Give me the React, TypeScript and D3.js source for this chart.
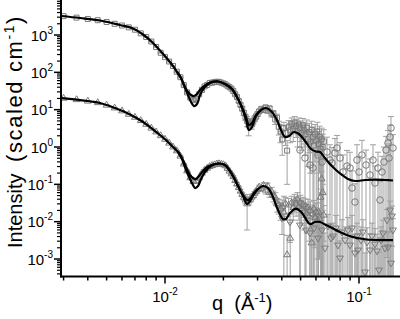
import React from 'react';
import * as d3 from 'd3';

type Pt = [number, number, number];
type CP = [number, number];

// ---------- axes ----------
const xDomain: [number, number] = [0.00291, 0.1627];
const yDomain: [number, number] = [3.4e-4, 8660];
const xMajorTicks = [0.01, 0.1];
const xTickExponents = ['-2', '-1'];
const yMajorTicks = [1e-3, 1e-2, 1e-1, 1, 10, 100, 1000];
const yTickExponents = ['-3', '-2', '-1', '0', '1', '2', '3'];
const minorMultipliers = [2, 3, 4, 5, 6, 7, 8, 9];
const xDecades = [0.001, 0.01, 0.1];
const yDecades = [1e-4, 1e-3, 1e-2, 1e-1, 1, 10, 100, 1000];

// ---------- fits ----------
const fitTopA: CP[] = [
  [0.00291, 3228], [0.00365, 2852], [0.00462, 2446], [0.00586, 1853], [0.00684, 1493], [0.00789, 940],
  [0.00867, 611], [0.00942, 384], [0.01024, 235], [0.0110, 148], [0.01153, 102], [0.01209, 70.5],
  [0.01268, 38], [0.01314, 24.7], [0.01362, 16], [0.01411, 12.5], [0.01462, 14.2], [0.01515, 24.7],
  [0.01589, 38], [0.01706, 51.8], [0.01876, 56.8], [0.02038, 48.7], [0.02215, 35.8], [0.0235, 21.8],
  [0.02494, 11.07], [0.02616, 5.28], [0.0271, 2.85], [0.02809, 3.43], [0.02945, 6.76], [0.03125, 9.79],
  [0.03316, 11.07], [0.03519, 9.21], [0.03778, 5.28], [0.03962, 2.85], [0.04155, 1.85], [0.04357, 1.97],
  [0.04624, 2.52], [0.04906, 2.23], [0.05268, 1.45], [0.05656, 0.883], [0.06003, 0.757], [0.06295, 0.734],
  [0.06678, 0.507], [0.07087, 0.35], [0.07609, 0.242], [0.08173, 0.178], [0.08776, 0.139], [0.09537, 0.123],
  [0.1074, 0.1306], [0.1209, 0.1345], [0.1361, 0.1306], [0.1497, 0.1266],
];
const fitTopB: CP[] = [
  [0.01153, 102], [0.01209, 70.5], [0.01268, 40.5], [0.01314, 29.7], [0.01362, 24.7], [0.01411, 23.2],
  [0.01462, 26.3], [0.01515, 33.6], [0.01589, 43.0], [0.01706, 53.4], [0.01876, 56.8], [0.02038, 48.7],
  [0.02215, 35.8], [0.0235, 21.8], [0.02494, 11.8], [0.02616, 6.36], [0.0271, 3.88], [0.02809, 4.39],
  [0.02945, 7.19], [0.03125, 9.79],
];
const fitBotA: CP[] = [
  [0.00291, 20.5], [0.00365, 18.1], [0.00462, 15.1], [0.00552, 11.07], [0.00637, 8.14], [0.00743, 5.28],
  [0.00837, 3.43], [0.00942, 2.10], [0.01024, 1.45], [0.0110, 1.0], [0.01167, 0.734], [0.01223, 0.477],
  [0.01283, 0.242], [0.01346, 0.139], [0.01394, 0.0959], [0.01428, 0.0797], [0.0148, 0.0902], [0.01533, 0.139],
  [0.01607, 0.214], [0.01726, 0.31], [0.01876, 0.361], [0.02038, 0.329], [0.02241, 0.167], [0.02378, 0.0902],
  [0.02523, 0.0487], [0.02647, 0.0297], [0.02743, 0.0357], [0.02877, 0.055], [0.03015, 0.075], [0.032, 0.0902],
  [0.03396, 0.0797], [0.03604, 0.0457], [0.03824, 0.0205], [0.04057, 0.01178], [0.04205, 0.01178], [0.04409, 0.01706],
  [0.04734, 0.0225], [0.05084, 0.01706], [0.05589, 0.00865], [0.05932, 0.00979], [0.06295, 0.00979], [0.06759, 0.00813],
  [0.07345, 0.00655], [0.0798, 0.00528], [0.08776, 0.00426], [0.09765, 0.00365], [0.11, 0.00333], [0.1283, 0.00322],
  [0.1497, 0.00322],
];
const fitBotB: CP[] = [
  [0.01167, 0.734], [0.01223, 0.507], [0.01283, 0.291], [0.01346, 0.178], [0.01394, 0.148], [0.01445, 0.139],
  [0.01497, 0.167], [0.0157, 0.2275], [0.01666, 0.30], [0.01876, 0.361], [0.02038, 0.329], [0.02241, 0.167],
  [0.02378, 0.0902], [0.02523, 0.0518], [0.02647, 0.038], [0.02743, 0.0405], [0.02877, 0.0585], [0.03015, 0.075],
];

// ---------- data: [q, I, error] ----------
const squaresTop: Pt[] = [
  [0.0030, 3200, 60], [0.0035, 2920, 50], [0.0040, 2690, 45], [0.0045, 2490, 40], [0.0050, 2230, 40],
  [0.0055, 1995, 35], [0.0060, 1795, 30], [0.0065, 1603, 30], [0.0070, 1386, 25], [0.0075, 1107, 20],
  [0.0080, 883, 18], [0.0085, 668, 14], [0.0090, 476, 10], [0.0095, 334, 8], [0.0100, 256, 6],
  [0.0105, 195, 5], [0.0110, 148, 4], [0.0115, 104, 3], [0.0120, 74, 2.5], [0.0125, 45.5, 2],
  [0.0130, 29, 1.5], [0.0135, 21, 1.5], [0.0140, 18, 1.5], [0.0145, 19, 1.5], [0.0150, 26, 1.5],
  [0.0155, 34, 1.5], [0.0160, 42, 1.5], [0.0165, 46, 1.5], [0.0170, 52, 1.5], [0.0175, 53, 1.5],
  [0.0180, 54.6, 1.5], [0.0185, 56, 1.5], [0.0190, 55.4, 1.5], [0.0195, 52.9, 1.5], [0.0200, 50.4, 1.5],
  [0.0205, 47.6, 1.5], [0.0210, 43.6, 1.5], [0.0215, 40, 1.5], [0.0220, 36.7, 1.5], [0.0225, 31.5, 1.5],
  [0.0230, 25.9, 1.5], [0.0235, 21.8, 1.5], [0.0240, 17.2, 1.4], [0.0245, 13.5, 1.4], [0.0250, 10.7, 1.3],
  [0.0255, 8.2, 1.3], [0.0260, 6.3, 1.2], [0.0265, 5.0, 1.5], [0.0270, 3.8, 1.8], [0.0275, 4.3, 1.2],
  [0.0280, 4.0, 1.0], [0.0285, 4.9, 1.0], [0.0290, 5.8, 1.0], [0.0295, 6.6, 1.0], [0.0300, 7.6, 1.0],
  [0.0306, 9.0, 1.0], [0.0314, 10.5, 1.2], [0.0322, 9.8, 1.3], [0.0330, 11.5, 1.5], [0.0338, 9.5, 1.5],
  [0.0346, 10.8, 1.6], [0.0354, 8.0, 1.6], [0.0362, 7.8, 1.6], [0.0370, 5.5, 1.5], [0.0378, 6.0, 1.6],
  [0.0386, 3.5, 1.4], [0.0394, 2.6, 1.3], [0.0402, 1.6, 1.0], [0.0410, 3.2, 1.4], [0.0418, 2.4, 1.3],
  [0.0426, 0.8, 0.7], [0.0434, 3.5, 1.6], [0.0442, 2.8, 1.5], [0.0450, 4.2, 1.8], [0.0458, 3.0, 1.6],
  [0.0466, 4.5, 2.0], [0.0474, 3.6, 1.8], [0.0482, 2.6, 1.6], [0.0490, 4.0, 2.0], [0.0498, 3.2, 1.8],
  [0.0506, 2.4, 1.6], [0.0514, 3.8, 2.0], [0.0522, 2.8, 1.8], [0.0530, 2.2, 1.6], [0.0538, 3.3, 2.0],
  [0.0546, 1.6, 1.3], [0.0554, 2.5, 1.8], [0.0562, 1.4, 1.2], [0.0570, 2.9, 2.0], [0.0578, 1.8, 1.6],
  [0.0586, 1.1, 1.1], [0.0594, 2.2, 1.8], [0.0602, 1.5, 1.5], [0.0610, 2.6, 2.0], [0.0618, 1.2, 1.4],
  [0.0626, 1.9, 1.7], [0.0634, 0.9, 1.1], [0.0642, 1.6, 1.6], [0.0650, 1.0, 1.2], [0.0658, 1.4, 1.5],
];
const circlesTop: Pt[] = [
  [0.04965, 0.83, 1.0], [0.05268, 0.507, 0.7], [0.05589, 0.329, 0.5], [0.05792, 0.274, 0.45], [0.06148, 0.61, 0.9],
  [0.06448, 0.396, 0.6], [0.06842, 0.734, 1.1], [0.07087, 0.448, 0.7], [0.07257, 0.372, 0.6], [0.0752, 0.69, 1.0],
  [0.07701, 0.94, 1.1], [0.0798, 0.507, 0.8], [0.08272, 0.214, 0.4], [0.08674, 0.31, 0.5], [0.08989, 0.274, 0.45],
  [0.09204, 0.0797, 0.15], [0.09537, 0.0336, 0.07], [0.09765, 0.448, 0.7], [0.1, 0.214, 0.35], [0.1036, 0.61, 0.9],
  [0.1087, 0.329, 0.5], [0.1139, 0.178, 0.3], [0.1181, 0.448, 0.7], [0.1209, 0.1085, 0.2], [0.1253, 0.274, 0.45],
  [0.1283, 0.038, 0.08], [0.1314, 0.214, 0.35], [0.1345, 0.396, 0.6], [0.1378, 0.83, 1.1], [0.1411, 1.28, 1.5],
  [0.1428, 0.507, 0.7], [0.1445, 1.85, 2.0], [0.1462, 3.23, 3.3], [0.1497, 0.94, 1.2],
];
const trianglesBottom: Pt[] = [
  [0.0030, 20.2, 0.4], [0.0035, 18.5, 0.4], [0.0040, 16.9, 0.3], [0.0045, 15.4, 0.3], [0.0050, 13.2, 0.3],
  [0.0055, 11.1, 0.2], [0.0060, 9.27, 0.2], [0.0065, 7.5, 0.15], [0.0070, 6.25, 0.12], [0.0075, 5.1, 0.1],
  [0.0080, 4.05, 0.08], [0.0085, 3.2, 0.06], [0.0090, 2.53, 0.05], [0.0095, 2.01, 0.04], [0.0100, 1.61, 0.03],
  [0.0105, 1.27, 0.03], [0.0110, 1.0, 0.02], [0.0115, 0.79, 0.02], [0.0120, 0.57, 0.015], [0.0125, 0.35, 0.01],
  [0.0130, 0.23, 0.01], [0.0135, 0.15, 0.008], [0.0140, 0.12, 0.008], [0.0145, 0.12, 0.008], [0.0150, 0.15, 0.008],
  [0.0155, 0.2, 0.008], [0.0160, 0.24, 0.008], [0.0165, 0.27, 0.008], [0.0170, 0.3, 0.008], [0.0175, 0.318, 0.008],
  [0.0180, 0.334, 0.008], [0.0185, 0.352, 0.008], [0.0190, 0.356, 0.008], [0.0195, 0.346, 0.008], [0.0200, 0.336, 0.008],
  [0.0205, 0.314, 0.008], [0.0210, 0.267, 0.008], [0.0215, 0.225, 0.008], [0.0220, 0.191, 0.008], [0.0225, 0.161, 0.008],
  [0.0230, 0.126, 0.008], [0.0235, 0.102, 0.008], [0.0240, 0.082, 0.007], [0.0245, 0.066, 0.007], [0.0250, 0.054, 0.007],
  [0.0255, 0.045, 0.007], [0.0260, 0.038, 0.008], [0.0265, 0.030, 0.024], [0.0270, 0.036, 0.008], [0.0275, 0.040, 0.006],
  [0.0280, 0.046, 0.006], [0.0285, 0.050, 0.006], [0.0290, 0.058, 0.006], [0.0295, 0.065, 0.006], [0.0300, 0.072, 0.006],
  [0.0306, 0.085, 0.01], [0.0314, 0.078, 0.012], [0.0322, 0.095, 0.014], [0.0330, 0.070, 0.015], [0.0338, 0.090, 0.018],
  [0.0346, 0.060, 0.015], [0.0354, 0.065, 0.018], [0.0362, 0.050, 0.016], [0.0370, 0.045, 0.015], [0.0378, 0.030, 0.012],
  [0.0386, 0.028, 0.012], [0.0394, 0.022, 0.011], [0.0402, 0.025, 0.013], [0.0410, 0.018, 0.030], [0.0418, 0.030, 0.014],
  [0.0426, 0.0013, 0.003], [0.0434, 0.028, 0.014], [0.0442, 0.0036, 0.006], [0.0450, 0.032, 0.016], [0.0458, 0.024, 0.013],
  [0.0466, 0.036, 0.018], [0.0474, 0.030, 0.016], [0.0482, 0.040, 0.02], [0.0490, 0.026, 0.015], [0.0498, 0.033, 0.018],
  [0.0506, 0.022, 0.014], [0.0514, 0.029, 0.016], [0.0522, 0.019, 0.013], [0.0530, 0.026, 0.015], [0.0538, 0.017, 0.012],
  [0.0546, 0.024, 0.015], [0.0554, 0.014, 0.011], [0.0562, 0.020, 0.014], [0.0570, 0.0027, 0.005], [0.0578, 0.016, 0.012],
  [0.0586, 0.022, 0.015], [0.0594, 0.013, 0.011], [0.0602, 0.018, 0.013], [0.0610, 0.011, 0.01], [0.0618, 0.018, 0.014],
  [0.0626, 0.012, 0.011], [0.0634, 0.045, 0.03], [0.0642, 0.14, 0.08], [0.0650, 0.06, 0.04], [0.0658, 0.015, 0.012],
];
const downTrianglesBottom: Pt[] = [
  [0.0401, 0.01253, 0.008], [0.04409, 0.0098, 0.007], [0.04965, 0.00815, 0.009], [0.05331, 0.00598, 0.007],
  [0.05589, 0.00497, 0.006], [0.05861, 0.00677, 0.008], [0.06148, 0.00365, 0.005], [0.06448, 0.00598, 0.007],
  [0.06678, 0.00197, 0.003], [0.06922, 0.00766, 0.008], [0.07174, 0.00365, 0.005], [0.07345, 0.00413, 0.005],
  [0.07609, 0.00677, 0.008], [0.07793, 0.00237, 0.004], [0.0798, 0.00106, 0.002], [0.08173, 0.00528, 0.006],
  [0.0847, 0.00323, 0.004], [0.08776, 0.00598, 0.007], [0.08989, 0.00237, 0.004], [0.09204, 0.00677, 0.008],
  [0.09537, 0.00145, 0.003], [0.09765, 0.00413, 0.005], [0.09881, 0.00174, 0.003], [0.1024, 0.00323, 0.004],
  [0.1048, 0.00528, 0.006], [0.1074, 0.000449, 0.001], [0.11, 0.00285, 0.004], [0.1139, 0.00174, 0.003],
  [0.1167, 0.00413, 0.005], [0.1209, 0.00252, 0.004], [0.1238, 0.00164, 0.003], [0.1268, 0.000507, 0.001],
  [0.1299, 0.00323, 0.004], [0.133, 0.00497, 0.006], [0.1361, 0.00197, 0.003], [0.1394, 0.0111, 0.01],
  [0.1411, 0.0021, 0.003], [0.1445, 0.0205, 0.015], [0.1462, 0.00078, 0.0015], [0.148, 0.0142, 0.012],
  [0.1497, 0.00598, 0.006],
];

const FONT = '"Liberation Sans", Arial, Helvetica, sans-serif';
const MARK = '#7a7a7a';
const BAR = '#a0a0a0';

export default function App() {
  const x = d3.scaleLog().domain(xDomain).range([61, 400]);
  const y = d3.scaleLog().domain(yDomain).range([276.5, 0]);
  const line = d3.line<CP>().x(d => x(d[0])).y(d => y(d[1])).curve(d3.curveCatmullRom.alpha(0.5));

  const sq = d3.symbol().type(d3.symbolSquare).size(25)() as string;
  const tri = d3.symbol().type(d3.symbolTriangle).size(20)() as string;
  const circ = d3.symbol().type(d3.symbolCircle).size(34)() as string;

  const inX = (v: number) => v >= xDomain[0] && v <= xDomain[1];
  const inY = (v: number) => v >= yDomain[0] && v <= yDomain[1];
  const xMinor = xDecades.flatMap(d => minorMultipliers.map(m => m * d)).filter(inX);
  const yMinor = yDecades.flatMap(d => minorMultipliers.map(m => m * d)).filter(inY);

  const bars = (data: Pt[], key: string) =>
    data.map((d, i) => {
      const cx = x(d[0]);
      const top = y(Math.min(d[1] + d[2], yDomain[1]));
      const lowV = d[1] - d[2];
      const clipped = lowV <= yDomain[0];
      const bot = clipped ? y(yDomain[0]) : y(lowV);
      return (
        <g key={key + i}>
          <line x1={cx} x2={cx} y1={top} y2={bot} />
          <line x1={cx - 3} x2={cx + 3} y1={top} y2={top} />
          {!clipped && <line x1={cx - 3} x2={cx + 3} y1={bot} y2={bot} />}
        </g>
      );
    });

  const marks = (data: Pt[], path: string, key: string, rot = 0) =>
    data.map((d, i) => (
      <path key={key + i} d={path} transform={`translate(${x(d[0])},${y(d[1])})${rot ? ` rotate(${rot})` : ''}`} />
    ));

  return (
    <svg width={400} height={319} style={{ position: 'absolute', left: 0, top: 0, background: '#fff' }} fontFamily={FONT}>
      <defs>
        <clipPath id="plot">
          <rect x={61} y={0} width={339} height={276.5} />
        </clipPath>
      </defs>
      <g clipPath="url(#plot)">
        <g stroke={BAR} strokeWidth={1} fill="none">
          {bars(squaresTop, 's')}
          {bars(circlesTop, 'c')}
          {bars(trianglesBottom, 't')}
          {bars(downTrianglesBottom, 'd')}
        </g>
        <g stroke={MARK} strokeWidth={1} fill="none">
          {marks(squaresTop, sq, 'S')}
          {marks(circlesTop, circ, 'C')}
          {marks(trianglesBottom, tri, 'T')}
          {marks(downTrianglesBottom, tri, 'D', 180)}
        </g>
        <g stroke="#000" strokeWidth={2.2} fill="none" strokeLinejoin="round">
          <path d={line(fitTopB) || ''} />
          <path d={line(fitTopA) || ''} />
          <path d={line(fitBotB) || ''} />
          <path d={line(fitBotA) || ''} />
        </g>
      </g>

      {/* axes */}
      <g stroke="#000" fill="none">
        <line x1={61} x2={61} y1={0} y2={277.5} strokeWidth={2} />
        <line x1={60} x2={400} y1={276.5} y2={276.5} strokeWidth={2} />
        {xMinor.map((v, i) => (
          <line key={'xm' + i} x1={x(v)} x2={x(v)} y1={276.5} y2={280.5} strokeWidth={1.5} />
        ))}
        {xMajorTicks.map((v, i) => (
          <line key={'xM' + i} x1={x(v)} x2={x(v)} y1={276.5} y2={283.5} strokeWidth={1.5} />
        ))}
        {yMinor.map((v, i) => (
          <line key={'ym' + i} x1={57} x2={61} y1={y(v)} y2={y(v)} strokeWidth={1.2} />
        ))}
        {yMajorTicks.map((v, i) => (
          <line key={'yM' + i} x1={54} x2={61} y1={y(v)} y2={y(v)} strokeWidth={1.5} />
        ))}
      </g>

      <g fill="#000" fontSize={15}>
        {xMajorTicks.map((v, i) => (
          <text key={'xl' + i} x={x(v)} y={301.5} textAnchor="middle">
            10<tspan dy={-7} fontSize={10}>{xTickExponents[i]}</tspan>
          </text>
        ))}
        {yMajorTicks.map((v, i) => (
          <text key={'yl' + i} x={53} y={y(v) + 5.5} textAnchor="end">
            10<tspan dy={-7} fontSize={10}>{yTickExponents[i]}</tspan>
          </text>
        ))}
      </g>

      <text x={212} y={310} fontSize={20} style={{ whiteSpace: 'pre' }}>
        {'q  (Å'}<tspan dy={-8} fontSize={13}>-1</tspan><tspan dy={8}>)</tspan>
      </text>
      <text transform="translate(22,248) rotate(-90)" textAnchor="start" fontSize={20}>
        Intensity
      </text>
      <text transform="translate(22,15) rotate(-90)" textAnchor="end" fontSize={22} letterSpacing={1.6}>
        (scaled cm<tspan dy={-8} fontSize={14}>-1</tspan><tspan dy={8}>)</tspan>
      </text>
    </svg>
  );
}
